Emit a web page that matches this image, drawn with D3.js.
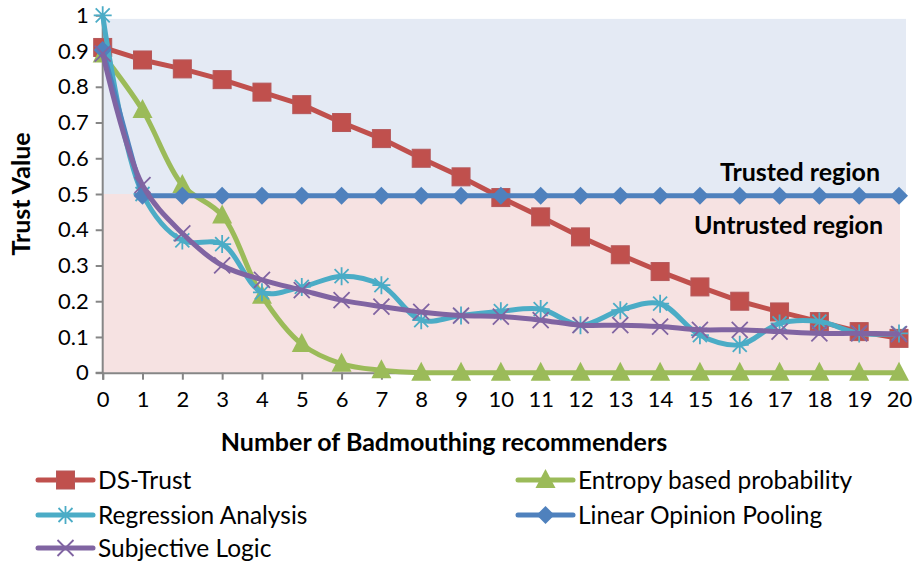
<!DOCTYPE html>
<html>
<head>
<meta charset="utf-8">
<script src="https://cdn.jsdelivr.net/npm/d3@7"></script>
<style>
  body { margin: 0; background: #fff; }
  text { font-family: Lato, "Open Sans", sans-serif; fill: #000; }
</style>
</head>
<body>
<div id="chart"></div>
<script>
// values
var recommenders = d3.range(0, 21);
var dsTrust = [0.91, 0.875, 0.85, 0.82, 0.785, 0.75, 0.70, 0.655, 0.60, 0.548, 0.49,
               0.436, 0.38, 0.33, 0.283, 0.24, 0.20, 0.17, 0.143, 0.115, 0.096];
var entropy = [0.89, 0.735, 0.525, 0.44, 0.215, 0.08, 0.025, 0.007, 0, 0, 0,
               0, 0, 0, 0, 0, 0, 0, 0, 0, 0];
var regression = [1.0, 0.5, 0.37, 0.36, 0.225, 0.24, 0.27, 0.245, 0.147, 0.16, 0.172,
                  0.178, 0.133, 0.175, 0.193, 0.105, 0.078, 0.138, 0.143, 0.11, 0.11];
var linearPooling = [0.903, 0.495, 0.495, 0.495, 0.495, 0.495, 0.495, 0.495, 0.495, 0.495, 0.495,
                     0.495, 0.495, 0.495, 0.495, 0.495, 0.495, 0.495, 0.495, 0.495, 0.495];
var subjective = [0.893, 0.525, 0.39, 0.30, 0.26, 0.231, 0.203, 0.185, 0.17, 0.16, 0.157,
                  0.147, 0.133, 0.133, 0.129, 0.12, 0.12, 0.115, 0.11, 0.11, 0.108];
var yTicks = d3.range(0, 11).map(function(i){ return i / 10; });
var regions = [
  {name: 'Trusted region', from: 0.5, to: 0.99, color: '#e4eaf4'},
  {name: 'Untrusted region', from: 0, to: 0.5, color: '#f6e2e2'}
];

var series = [
  {name: 'DS-Trust', values: dsTrust, color: '#c0504d', marker: 'square', smooth: false},
  {name: 'Entropy based probability', values: entropy, color: '#9bbb59', marker: 'triangle', smooth: true},
  {name: 'Regression Analysis', values: regression, color: '#4bacc6', marker: 'star', smooth: true},
  {name: 'Linear Opinion Pooling', values: linearPooling, color: '#4f81bd', marker: 'diamond', smooth: false},
  {name: 'Subjective Logic', values: subjective, color: '#8064a2', marker: 'cross', smooth: true}
];

var width = 916, height = 566;
var margin = {top: 15.3, right: 17, bottom: 193.3, left: 102.7};

var svg = d3.select('#chart').append('svg')
    .attr('width', width)
    .attr('height', height);

var x = d3.scaleLinear().domain([0, 20]).range([margin.left, width - margin.right]);
var y = d3.scaleLinear().domain([0, 1]).range([height - margin.bottom, margin.top]);

// background regions
svg.selectAll('rect.region')
  .data(regions)
  .enter()
    .append('rect')
    .attr('class', 'region')
    .attr('x', x(0))
    .attr('y', function(d){ return y(d.to); })
    .attr('width', function(d, i){ return x(20) - x(0) + (i === 0 ? 7 : 1); })
    .attr('height', function(d){ return y(d.from) - y(d.to); })
    .attr('fill', function(d){ return d.color; });

// axes
var xAxis = d3.axisBottom(x).tickValues(recommenders).tickSize(7).tickPadding(12).tickFormat(d3.format('d'));
var yAxis = d3.axisLeft(y).tickValues(yTicks).tickSize(7).tickPadding(7).tickFormat(function(d){ return d3.format('')(+d.toFixed(1)); });

var gx = svg.append('g').attr('transform', 'translate(0,' + y(0) + ')').call(xAxis);
var gy = svg.append('g').attr('transform', 'translate(' + x(0) + ',0)').call(yAxis);
[gx, gy].forEach(function(g){
  g.select('.domain').attr('stroke', '#868686').attr('stroke-width', 2);
  g.selectAll('.tick line').attr('stroke', '#868686').attr('stroke-width', 2);
  g.selectAll('.tick text').style('font-size', '22px').attr('fill', '#000');
});
gy.select('.domain').attr('d', 'M-7,' + y(0) + 'H0V' + y(0.99));

// region labels
svg.append('text')
  .attr('x', 880).attr('y', y(0.5) - 13)
  .attr('text-anchor', 'end')
  .style('font-size', '25px').style('font-weight', 'bold')
  .text(regions[0].name);
svg.append('text')
  .attr('x', 883).attr('y', y(0.5) + 40)
  .attr('text-anchor', 'end')
  .style('font-size', '25px').style('font-weight', 'bold')
  .text(regions[1].name);

// axis titles
svg.append('text')
  .attr('x', 444).attr('y', 451)
  .attr('text-anchor', 'middle')
  .style('font-size', '25px').style('font-weight', 'bold')
  .text('Number of Badmouthing recommenders');
svg.append('text')
  .attr('transform', 'translate(30,' + y(0.5) + ') rotate(-90)')
  .attr('text-anchor', 'middle')
  .style('font-size', '25px').style('font-weight', 'bold')
  .text('Trust Value');

// marker shapes
function drawMarker(g, type, color) {
  if (type === 'square') {
    g.append('rect').attr('x', -9).attr('y', -9).attr('width', 18).attr('height', 18)
      .attr('fill', color).attr('stroke', '#b5585a').attr('stroke-width', 1);
  } else if (type === 'triangle') {
    g.append('path').attr('d', 'M0,-11L10,8L-10,8Z').attr('fill', color);
  } else if (type === 'diamond') {
    g.append('path').attr('d', 'M0,-9L9,0L0,9L-9,0Z').attr('fill', color);
  } else if (type === 'star') {
    g.append('path').attr('d', 'M-9,0H9M0,-9V9M-7,-7L7,7M-7,7L7,-7')
      .attr('stroke', color).attr('stroke-width', 1.8).attr('fill', 'none');
  } else if (type === 'cross') {
    g.append('path').attr('d', 'M-8,-8L8,8M-8,8L8,-8')
      .attr('stroke', color).attr('stroke-width', 1.8).attr('fill', 'none');
  }
}

var plot = svg.append('g');
series.forEach(function(s){
  var line = d3.line()
    .x(function(d, i){ return x(recommenders[i]); })
    .y(function(d){ return y(d); })
    .curve(s.smooth ? d3.curveCatmullRom.alpha(0.5) : d3.curveLinear);

  var g = plot.append('g');
  g.append('path')
    .datum(s.values)
    .attr('d', line)
    .attr('fill', 'none')
    .attr('stroke', s.color)
    .attr('stroke-width', 5)
    .attr('stroke-linejoin', 'round');

  g.selectAll('g.pt')
    .data(s.values)
    .enter()
      .append('g')
      .attr('class', 'pt')
      .attr('transform', function(d, i){ return 'translate(' + x(recommenders[i]) + ',' + y(d) + ')'; })
      .each(function(){ drawMarker(d3.select(this), s.marker, s.color); });
});

// legend
var legendPos = [
  {x: 38, y: 480}, {x: 518, y: 480},
  {x: 38, y: 515}, {x: 518, y: 515},
  {x: 38, y: 548}
];
var legend = svg.selectAll('g.legend')
  .data(series)
  .enter()
    .append('g')
    .attr('class', 'legend')
    .attr('transform', function(d, i){ return 'translate(' + legendPos[i].x + ',' + legendPos[i].y + ')'; });

legend.append('line')
  .attr('x1', 0).attr('x2', 55)
  .attr('stroke', function(d){ return d.color; })
  .attr('stroke-width', 5)
  .attr('stroke-linecap', 'round');
legend.each(function(d){
  drawMarker(d3.select(this).append('g').attr('transform', 'translate(27.5,0)'), d.marker, d.color);
});
legend.append('text')
  .attr('x', 60).attr('dy', '0.35em')
  .style('font-size', '24.5px')
  .text(function(d){ return d.name; });
</script>
</body>
</html>
